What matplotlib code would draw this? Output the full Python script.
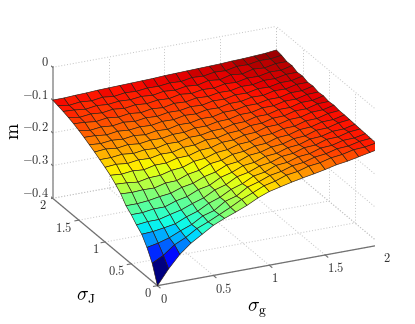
import numpy as np
import matplotlib
matplotlib.use("Agg")
import matplotlib.pyplot as plt
from matplotlib.colors import Normalize
from mpl_toolkits.mplot3d import proj3d

plt.rcParams['mathtext.fontset'] = 'cm'
plt.rcParams['font.family'] = ['Liberation Serif', 'DejaVu Serif']

sigma_g = [0, .1, .2, .3, .4, .5, .6, .7, .8, .9, 1, 1.1, 1.2, 1.3, 1.4, 1.5, 1.6, 1.7, 1.8, 1.9, 2]
sigma_J = [0, .1, .2, .3, .4, .5, .6, .7, .8, .9, 1, 1.1, 1.2, 1.3, 1.4, 1.5, 1.6, 1.7, 1.8, 1.9, 2]

# one row per sigma_J
m = [
    [-.400, -.355, -.317, -.289, -.268, -.247, -.232, -.219, -.205, -.188, -.175, -.167, -.159, -.152, -.146, -.139, -.131, -.126, -.119, -.112, -.105],
    [-.345, -.327, -.301, -.285, -.264, -.250, -.234, -.218, -.200, -.186, -.171, -.163, -.151, -.146, -.136, -.132, -.123, -.119, -.111, -.109, -.103],
    [-.310, -.303, -.293, -.278, -.265, -.245, -.235, -.213, -.203, -.182, -.172, -.159, -.153, -.142, -.138, -.128, -.124, -.115, -.113, -.105, -.102],
    [-.283, -.281, -.276, -.270, -.255, -.244, -.226, -.214, -.196, -.185, -.168, -.162, -.148, -.145, -.134, -.131, -.120, -.118, -.109, -.108, -.101],
    [-.268, -.264, -.264, -.255, -.247, -.234, -.223, -.205, -.195, -.177, -.170, -.157, -.152, -.140, -.137, -.126, -.124, -.113, -.112, -.103, -.100],
    [-.250, -.250, -.245, -.245, -.233, -.226, -.211, -.204, -.186, -.177, -.163, -.159, -.147, -.144, -.133, -.130, -.119, -.117, -.108, -.107, -.099],
    [-.236, -.236, -.233, -.227, -.223, -.211, -.205, -.191, -.183, -.168, -.164, -.151, -.148, -.138, -.135, -.125, -.123, -.112, -.111, -.102, -.098],
    [-.213, -.215, -.213, -.214, -.205, -.204, -.191, -.185, -.171, -.167, -.155, -.152, -.142, -.140, -.129, -.127, -.117, -.115, -.106, -.105, -.097],
    [-.197, -.199, -.203, -.196, -.195, -.186, -.183, -.171, -.168, -.157, -.154, -.144, -.142, -.132, -.130, -.121, -.120, -.110, -.109, -.100, -.097],
    [-.183, -.186, -.182, -.185, -.177, -.177, -.168, -.167, -.157, -.155, -.145, -.144, -.135, -.133, -.123, -.122, -.113, -.112, -.103, -.102, -.094],
    [-.172, -.169, -.173, -.168, -.170, -.163, -.164, -.155, -.154, -.145, -.145, -.137, -.135, -.126, -.125, -.116, -.115, -.106, -.106, -.097, -.096],
    [-.162, -.162, -.158, -.162, -.157, -.159, -.151, -.152, -.144, -.144, -.137, -.136, -.128, -.127, -.118, -.118, -.109, -.109, -.100, -.100, -.092],
    [-.152, -.149, -.153, -.148, -.152, -.147, -.148, -.142, -.142, -.135, -.135, -.128, -.127, -.119, -.119, -.111, -.111, -.103, -.103, -.095, -.094],
    [-.143, -.146, -.142, -.145, -.140, -.144, -.138, -.140, -.132, -.133, -.126, -.127, -.119, -.119, -.112, -.112, -.105, -.105, -.097, -.097, -.089],
    [-.134, -.135, -.139, -.134, -.137, -.133, -.135, -.129, -.130, -.123, -.125, -.118, -.119, -.112, -.112, -.105, -.106, -.098, -.099, -.091, -.091],
    [-.126, -.132, -.128, -.131, -.126, -.130, -.125, -.127, -.121, -.122, -.116, -.118, -.111, -.112, -.105, -.106, -.099, -.100, -.093, -.093, -.085],
    [-.119, -.121, -.125, -.120, -.124, -.119, -.123, -.117, -.120, -.113, -.115, -.109, -.111, -.105, -.106, -.099, -.100, -.093, -.094, -.087, -.087],
    [-.113, -.119, -.115, -.118, -.113, -.117, -.112, -.115, -.110, -.112, -.105, -.109, -.103, -.105, -.098, -.100, -.093, -.094, -.087, -.088, -.080],
    [-.108, -.110, -.114, -.109, -.112, -.108, -.110, -.106, -.109, -.103, -.106, -.100, -.103, -.095, -.099, -.090, -.094, -.085, -.088, -.081, -.081],
    [-.104, -.109, -.105, -.108, -.103, -.107, -.102, -.104, -.100, -.101, -.097, -.099, -.093, -.095, -.089, -.091, -.084, -.085, -.079, -.080, -.075],
    [-.100, -.100, -.098, -.097, -.095, -.094, -.093, -.092, -.091, -.090, -.088, -.087, -.086, -.085, -.084, -.083, -.081, -.080, -.078, -.076, -.072],
]

g_ticks = [0, 0.5, 1, 1.5, 2]
J_ticks = [0, 0.5, 1, 1.5, 2]
m_ticks = [-0.4, -0.3, -0.2, -0.1, 0]
g_labels = ['0', '0.5', '1', '1.5', '2']
J_labels = ['0', '0.5', '1', '1.5', '2']
m_labels = ['-0.4', '-0.3', '-0.2', '-0.1', '0']

fig = plt.figure(figsize=(4.15, 3.24), dpi=100)
ax = fig.add_axes([50.5 / 415, 1.6 / 324, 324 / 415, 1], projection='3d', proj_type='ortho')
ax.computed_zorder = False
ax.set_box_aspect((243, 243, 140), zoom=1.13)
ax.view_init(elev=23, azim=-115.1)
ax.set_axis_off()
ax.set_xlim(0, 2)
ax.set_ylim(0, 2)
ax.set_zlim(-0.4, 0)

def tick_text(x, y, z, s, ha):
    # place the label in the flat axes coords so it sits where the 3d point lands
    px, py, _ = proj3d.proj_transform(x, y, z, ax.get_proj())
    ax.text2D(px, py, '$%s$' % s, transform=ax.transData, ha=ha, va='center',
              fontsize=9, color='#333333', clip_on=False)

grid_style = dict(color='#c4c4c4', lw=0.7, ls=(0, (1, 2)), zorder=1)
for t in g_ticks:
    ax.plot([t, t], [0, 2], [-0.4, -0.4], **grid_style)
    ax.plot([t, t], [2, 2], [-0.4, 0], **grid_style)
for t in J_ticks:
    ax.plot([0, 2], [t, t], [-0.4, -0.4], **grid_style)
    ax.plot([2, 2], [t, t], [-0.4, 0], **grid_style)
for t in m_ticks:
    ax.plot([0, 2], [2, 2], [t, t], **grid_style)
    ax.plot([2, 2], [0, 2], [t, t], **grid_style)

# axis lines
ax.plot([0, 2], [0, 0], [-0.4, -0.4], color='#707070', lw=0.9, zorder=2)
ax.plot([0, 0], [0, 2], [-0.4, -0.4], color='#707070', lw=0.9, zorder=2)
ax.plot([0, 0], [2, 2], [-0.4, 0], color='#a8a8a8', lw=1.4, zorder=2)

for t, lab in zip(g_ticks, g_labels):
    ax.plot([t, t], [0, -0.05], [-0.4, -0.4], color='#707070', lw=0.8, zorder=2)
    tick_text(t - 0.103, -0.26, -0.4, lab, 'left')
for t, lab in zip(J_ticks, J_labels):
    ax.plot([0, -0.035], [t, t], [-0.4, -0.4], color='#707070', lw=0.8, zorder=2)
    tick_text(-0.112, t - 0.123, -0.4, lab, 'right')
for t, lab in zip(m_ticks, m_labels):
    ax.plot([0, 0], [2, 2.06], [t, t], color='#707070', lw=0.8, zorder=2)
    tick_text(0, 2.07, t + 0.006, lab, 'right')

G, J = np.meshgrid(sigma_g, sigma_J)
M = np.array(m)
colors = plt.cm.jet(Normalize(-0.4, -0.07)(M))
ax.plot_surface(G, J, M, facecolors=colors, rstride=1, cstride=1, shade=False,
                edgecolor='#2a1a10', linewidth=0.45, zorder=3)

fig.text(14.5 / 415, 1 - 130.7 / 324, '$\\mathrm{m}$', rotation=90, ha='center', va='center', fontsize=14)
fig.text(86 / 415, 1 - 297 / 324, '$\\sigma_{\\mathrm{J}}$', ha='center', va='center', fontsize=14)
fig.text(257 / 415, 1 - 310 / 324, '$\\sigma_{\\mathrm{g}}$', ha='center', va='center', fontsize=14)

fig.savefig('out.png', dpi=100)
